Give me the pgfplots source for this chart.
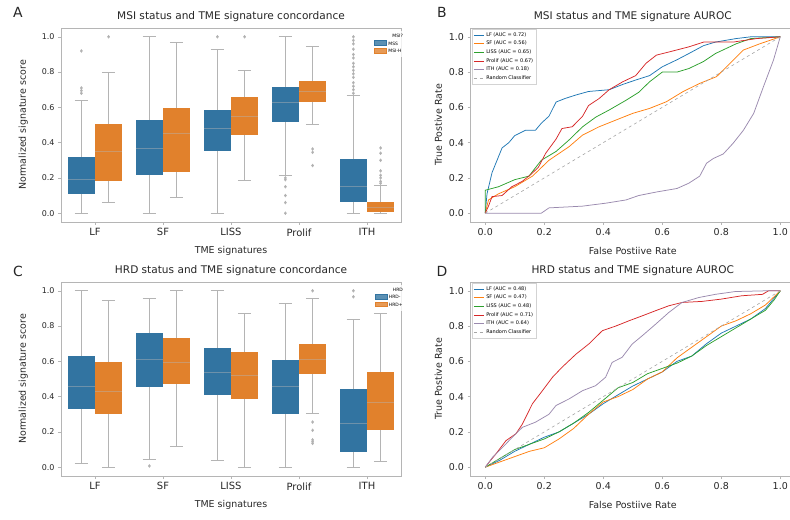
\documentclass[border=0pt]{standalone}
\usepackage{fontspec}
\setmainfont{DejaVu Sans}
\usepackage{pgfplots}
\pgfplotsset{compat=1.18}
\usepgfplotslibrary{statistics}

\definecolor{boxblue}{HTML}{3274A1}
\definecolor{boxorange}{HTML}{E1812C}
\definecolor{whisk}{HTML}{B4B4B4}
\definecolor{spine}{HTML}{B5B5B5}
\definecolor{txt}{HTML}{262626}
\definecolor{cblue}{HTML}{1F77B4}
\definecolor{corange}{HTML}{FF7F0E}
\definecolor{cgreen}{HTML}{2CA02C}
\definecolor{cred}{HTML}{D62728}
\definecolor{cpurple}{HTML}{9A8AAE}

\pgfplotsset{
  panel/.style={
    scale only axis,
    axis line style={spine, line width=0.7bp},
    tick style={spine, line width=0.6bp},
    major tick length=3bp,
    tick align=outside,
    xtick pos=lower, ytick pos=left,
    ymin=-0.05, ymax=1.05,
    ytick={0,0.2,0.4,0.6,0.8,1},
    /pgf/number format/assume math mode=true,
    yticklabel style={/pgf/number format/fixed, /pgf/number format/fixed zerofill, /pgf/number format/precision=1},
    title style={font=\fontsize{10.6}{12}\selectfont, text=txt, yshift=-3bp},
    label style={font=\fontsize{9.5}{11}\selectfont, text=txt},
    tick label style={text=txt},
  },
  boxax/.style={panel,
    width=340bp, height=194bp,
    xmin=-0.5, xmax=4.5,
    xtick={0,1,2,3,4},
    xticklabels={LF,SF,LISS,Prolif,ITH},
    x tick label style={font=\fontsize{10}{12}\selectfont},
    y tick label style={font=\fontsize{8}{10}\selectfont},
    xlabel={TME signatures},
    ylabel={Normalized signature score},
    xlabel shift=3bp, ylabel shift=7bp,
    legend cell align=left,
    legend style={at={(1.015,0.985)}, anchor=north east, draw=none,
      fill=white, fill opacity=0.8, text opacity=1,
      font=\fontsize{4.5}{5.5}\selectfont, row sep=-1.2bp, inner sep=1bp},
  },
  rocax/.style={panel,
    width=324.5bp, height=194bp,
    xmin=-0.05, xmax=1.05,
    xtick={0,0.2,0.4,0.6,0.8,1},
    xticklabel style={/pgf/number format/fixed, /pgf/number format/fixed zerofill, /pgf/number format/precision=1},
    tick label style={font=\fontsize{9.5}{11}\selectfont},
    xlabel={False Postiive Rate},
    ylabel={True Postive Rate},
    xlabel shift=5bp,
    legend cell align=left,
    legend style={at={(0.005,0.995)}, anchor=north west, draw=spine!60,
      fill=white, fill opacity=0.8, text opacity=1,
      font=\fontsize{5}{6}\selectfont, row sep=-0.6bp, inner sep=1.2bp},
    legend image code/.code={\draw[##1] (0bp,0bp) -- (10bp,0bp);},
    every axis plot/.append style={line width=0.75bp},
  },
}

% position, colour, lower whisker, lower quartile, median, upper quartile, upper whisker, outliers
\newcommand{\bx}[8]{%
  \addplot[forget plot, draw=whisk, line width=0.8bp,
    mark=diamond*, mark size=1.2bp, mark options={fill=whisk!90!black, draw=none},
    boxplot prepared={draw direction=y, draw position=#1,
      lower whisker=#3, lower quartile=#4, median=#5,
      upper quartile=#6, upper whisker=#7,
      box extend=0.4, whisker extend=0.2,
      every box/.style={fill=#2, draw=none},
      every median/.style={draw=whisk!45!#2, line width=0.8bp}}]
    coordinates {#8};}

\newcommand{\boxleg}[3]{%
  \addlegendimage{empty legend}\addlegendentry{\hspace{4bp}#1}
  \addlegendimage{legend image code/.code={\fill[boxblue] (0bp,-1bp) rectangle (12bp,3.5bp);}}\addlegendentry{#2}
  \addlegendimage{legend image code/.code={\fill[boxorange] (0bp,-1bp) rectangle (12bp,3.5bp);}}\addlegendentry{#3}}

\begin{document}
\begin{tikzpicture}
\useasboundingbox (0,0) rectangle (790bp,520bp);

\node[font=\fontsize{14}{16}\selectfont, text=txt] at (18bp,508bp) {A};
\node[font=\fontsize{14}{16}\selectfont, text=txt] at (442bp,508bp) {B};
\node[font=\fontsize{14}{16}\selectfont, text=txt] at (18bp,249bp) {C};
\node[font=\fontsize{14}{16}\selectfont, text=txt] at (442bp,249bp) {D};

% ---------- A: MSI boxplots ----------
\begin{axis}[boxax, at={(61bp,298bp)}, anchor=south west,
  title={MSI status and TME signature concordance}]
\bx{-0.2}{boxblue}{0}{0.11}{0.19}{0.32}{0.64}{(0,0.68) (0,0.695) (0,0.71) (0,0.92)}
\bx{0.2}{boxorange}{0.06}{0.185}{0.35}{0.505}{0.80}{(0,1.0)}
\bx{0.8}{boxblue}{0}{0.217}{0.37}{0.53}{1.0}{}
\bx{1.2}{boxorange}{0.09}{0.234}{0.45}{0.594}{0.97}{}
\bx{1.8}{boxblue}{0}{0.35}{0.48}{0.585}{0.93}{(0,1.0)}
\bx{2.2}{boxorange}{0.185}{0.445}{0.547}{0.657}{0.807}{(0,1.0)}
\bx{2.8}{boxblue}{0.217}{0.515}{0.63}{0.713}{1.0}{(0,0.20) (0,0.19) (0,0.15) (0,0.10) (0,0.06) (0,0.0)}
\bx{3.2}{boxorange}{0.506}{0.628}{0.69}{0.75}{0.943}{(0,0.364) (0,0.345) (0,0.27)}
\bx{3.8}{boxblue}{0}{0.066}{0.15}{0.305}{0.666}{(0,0.68) (0,0.70) (0,0.72) (0,0.74) (0,0.77) (0,0.79) (0,0.81) (0,0.83) (0,0.85) (0,0.88) (0,0.90) (0,0.93) (0,0.96) (0,0.98) (0,1.0)}
\bx{4.2}{boxorange}{0}{0.005}{0.03}{0.066}{0.16}{(0,0.17) (0,0.18) (0,0.20) (0,0.215) (0,0.24) (0,0.30) (0,0.34) (0,0.37)}
\boxleg{MSI?}{MSS}{MSI-H}
\end{axis}

% ---------- B: MSI ROC ----------
\begin{axis}[rocax, at={(470.5bp,298bp)}, anchor=south west,
  title={MSI status and TME signature AUROC}]
\addplot[cblue] coordinates {(0,0) (0.006,0.11) (0.023,0.23) (0.04,0.30) (0.057,0.37) (0.08,0.40) (0.10,0.44) (0.136,0.47) (0.17,0.47) (0.19,0.51) (0.216,0.55) (0.24,0.63) (0.27,0.65) (0.307,0.67) (0.35,0.69) (0.42,0.70) (0.466,0.73) (0.51,0.755) (0.557,0.78) (0.60,0.83) (0.65,0.87) (0.69,0.905) (0.74,0.95) (0.78,0.97) (0.85,0.99) (0.90,1.0) (1,1)};
\addlegendentry{LF (AUC = 0.72)}
\addplot[corange] coordinates {(0,0) (0.011,0.075) (0.045,0.11) (0.10,0.15) (0.16,0.21) (0.216,0.30) (0.284,0.377) (0.33,0.443) (0.386,0.49) (0.443,0.528) (0.50,0.566) (0.557,0.594) (0.614,0.632) (0.67,0.689) (0.727,0.736) (0.784,0.774) (0.83,0.85) (0.875,0.925) (0.93,0.96) (1,1)};
\addlegendentry{SF (AUC = 0.56)}
\addplot[cgreen] coordinates {(0,0) (0,0.13) (0.045,0.15) (0.10,0.19) (0.148,0.21) (0.19,0.30) (0.24,0.35) (0.284,0.415) (0.33,0.49) (0.375,0.545) (0.42,0.585) (0.477,0.64) (0.52,0.685) (0.557,0.745) (0.60,0.80) (0.65,0.80) (0.69,0.82) (0.74,0.86) (0.78,0.905) (0.85,0.96) (0.90,0.99) (1,1)};
\addlegendentry{LISS (AUC = 0.65)}
\addplot[cred] coordinates {(0,0) (0.011,0.04) (0.023,0.094) (0.057,0.10) (0.09,0.15) (0.125,0.18) (0.153,0.217) (0.18,0.26) (0.205,0.34) (0.24,0.42) (0.26,0.48) (0.295,0.49) (0.33,0.55) (0.35,0.61) (0.386,0.65) (0.42,0.70) (0.466,0.745) (0.51,0.78) (0.545,0.85) (0.58,0.896) (0.625,0.915) (0.69,0.943) (0.74,0.97) (0.84,0.97) (0.92,0.99) (1,1)};
\addlegendentry{Prolif (AUC = 0.67)}
\addplot[cpurple] coordinates {(0,0) (0.19,0.0) (0.216,0.03) (0.33,0.04) (0.41,0.057) (0.477,0.075) (0.52,0.10) (0.58,0.12) (0.65,0.14) (0.69,0.17) (0.727,0.21) (0.75,0.283) (0.773,0.31) (0.807,0.336) (0.84,0.396) (0.875,0.47) (0.91,0.566) (0.943,0.717) (0.977,0.868) (1,1)};
\addlegendentry{ITH (AUC = 0.18)}
\addplot[gray!70, dashed, line width=0.6bp] coordinates {(0,0) (1,1)};
\addlegendentry{Random Classifier}
\end{axis}

% ---------- C: HRD boxplots ----------
\begin{axis}[boxax, at={(61bp,44bp)}, anchor=south west,
  title={HRD status and TME signature concordance}]
\bx{-0.2}{boxblue}{0.02}{0.33}{0.46}{0.63}{1.0}{}
\bx{0.2}{boxorange}{0.0}{0.30}{0.43}{0.595}{0.945}{}
\bx{0.8}{boxblue}{0.043}{0.457}{0.61}{0.76}{0.957}{(0,0.007)}
\bx{1.2}{boxorange}{0.115}{0.473}{0.595}{0.733}{1.0}{}
\bx{1.8}{boxblue}{0.036}{0.407}{0.54}{0.674}{1.0}{}
\bx{2.2}{boxorange}{0.0}{0.388}{0.52}{0.655}{0.874}{}
\bx{2.8}{boxblue}{0.0}{0.303}{0.46}{0.61}{0.93}{}
\bx{3.2}{boxorange}{0.303}{0.53}{0.61}{0.699}{0.957}{(0,1.0) (0,0.256) (0,0.209) (0,0.155) (0,0.145) (0,0.135)}
\bx{3.8}{boxblue}{0.0}{0.087}{0.25}{0.443}{0.836}{(0,0.966) (0,1.0)}
\bx{4.2}{boxorange}{0.03}{0.209}{0.37}{0.539}{0.874}{}
\boxleg{HRD}{HRD-}{HRD+}
\end{axis}

% ---------- D: HRD ROC ----------
\begin{axis}[rocax, at={(470.5bp,44bp)}, anchor=south west,
  title={HRD status and TME signature AUROC}]
\addplot[cblue] coordinates {(0,0) (0.05,0.04) (0.1,0.09) (0.15,0.13) (0.2,0.17) (0.25,0.2) (0.3,0.25) (0.35,0.30) (0.4,0.36) (0.45,0.41) (0.5,0.46) (0.55,0.5) (0.6,0.54) (0.65,0.6) (0.7,0.63) (0.75,0.7) (0.8,0.76) (0.85,0.8) (0.9,0.84) (0.95,0.9) (0.98,0.96) (1,1)};
\addlegendentry{LF (AUC = 0.48)}
\addplot[corange] coordinates {(0,0) (0.05,0.03) (0.1,0.06) (0.15,0.09) (0.2,0.11) (0.25,0.16) (0.3,0.22) (0.35,0.3) (0.4,0.37) (0.45,0.4) (0.5,0.44) (0.55,0.5) (0.6,0.54) (0.65,0.62) (0.7,0.68) (0.75,0.74) (0.8,0.8) (0.85,0.83) (0.9,0.87) (0.95,0.92) (1,1)};
\addlegendentry{SF (AUC = 0.47)}
\addplot[cgreen] coordinates {(0,0) (0.05,0.05) (0.1,0.1) (0.15,0.13) (0.2,0.16) (0.25,0.2) (0.3,0.25) (0.35,0.31) (0.4,0.38) (0.45,0.45) (0.5,0.48) (0.55,0.53) (0.6,0.56) (0.65,0.59) (0.7,0.63) (0.75,0.69) (0.8,0.74) (0.85,0.79) (0.9,0.84) (0.95,0.89) (0.98,0.95) (1,1)};
\addlegendentry{LISS (AUC = 0.48)}
\addplot[cred] coordinates {(0,0) (0.013,0.028) (0.036,0.075) (0.07,0.15) (0.104,0.19) (0.126,0.245) (0.16,0.36) (0.194,0.434) (0.228,0.51) (0.26,0.566) (0.307,0.64) (0.352,0.70) (0.397,0.774) (0.442,0.80) (0.487,0.83) (0.532,0.858) (0.577,0.887) (0.622,0.915) (0.667,0.934) (0.735,0.94) (0.80,0.953) (0.87,0.972) (0.94,0.98) (0.96,1.0) (1,1)};
\addlegendentry{Prolif (AUC = 0.71)}
\addplot[cpurple] coordinates {(0,0) (0.025,0.057) (0.059,0.113) (0.092,0.17) (0.126,0.226) (0.17,0.255) (0.216,0.30) (0.24,0.35) (0.284,0.387) (0.33,0.434) (0.374,0.462) (0.408,0.51) (0.43,0.594) (0.464,0.623) (0.498,0.698) (0.532,0.745) (0.577,0.81) (0.622,0.877) (0.667,0.934) (0.724,0.962) (0.78,0.98) (0.848,0.996) (0.95,1.0) (1,1)};
\addlegendentry{ITH (AUC = 0.64)}
\addplot[gray!70, dashed, line width=0.6bp] coordinates {(0,0) (1,1)};
\addlegendentry{Random Classifier}
\end{axis}
\end{tikzpicture}
\end{document}
